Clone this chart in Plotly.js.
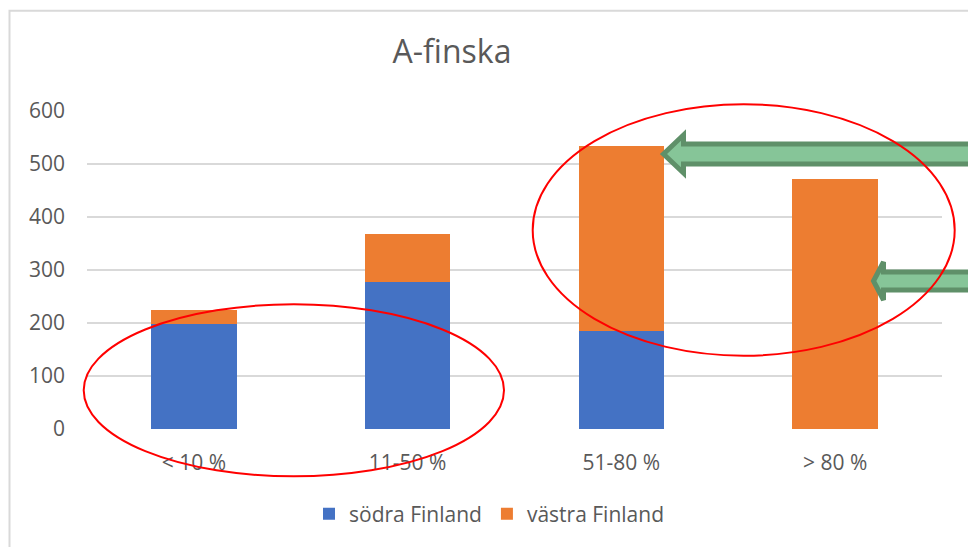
<!DOCTYPE html>
<html>
<head>
<meta charset="utf-8">
<script src="https://cdn.plot.ly/plotly-3.0.1.min.js"></script>
<style>
  html, body { margin: 0; padding: 0; background: #ffffff; }
  #chart { width: 968px; height: 547px; }
</style>
</head>
<body>
<div id="chart"></div>
<script>
// ---- data ----
const categories = ['< 10 %', '11-50 %', '51-80 %', '> 80 %'];
const sodraFinland = [198, 278, 184, 0];
const vastraFinland = [26, 90, 350, 472];
const seriesNames = ['södra Finland', 'västra Finland'];
const yTicks = [0, 100, 200, 300, 400, 500, 600];

// ---- layout constants ----
const W = 968, H = 547;
const M = { l: 87, r: 26, t: 111, b: 118 };
const PW = W - M.l - M.r, PH = H - M.t - M.b;
const px = x => (x - M.l) / PW;          // pixel -> paper x
const py = y => (H - M.b - y) / PH;      // pixel -> paper y

function leftArrow(tipX, tipY, headHalf, bodyHalf, backX, endX) {
  return 'M' + px(tipX) + ',' + py(tipY) +
    ' L' + px(backX) + ',' + py(tipY - headHalf) +
    ' L' + px(backX) + ',' + py(tipY - bodyHalf) +
    ' L' + px(endX) + ',' + py(tipY - bodyHalf) +
    ' L' + px(endX) + ',' + py(tipY + bodyHalf) +
    ' L' + px(backX) + ',' + py(tipY + bodyHalf) +
    ' L' + px(backX) + ',' + py(tipY + headHalf) + ' Z';
}

const textColor = '#595959';
const font = 'Open Sans, Noto Sans, sans-serif';

const traces = [
  { type: 'bar', name: seriesNames[0], x: categories, y: sodraFinland,
    marker: { color: '#4472C4', line: { width: 0 } } },
  { type: 'bar', name: seriesNames[1], x: categories, y: vastraFinland,
    marker: { color: '#ED7D31', line: { width: 0 } } }
];

const arrowFill = '#86C598', arrowLine = '#5F9069';

const layout = {
  width: W, height: H,
  margin: M,
  paper_bgcolor: '#ffffff', plot_bgcolor: '#ffffff',
  barmode: 'stack',
  bargap: 0.6,
  font: { family: font, color: textColor, size: 21 },
  title: {
    text: 'A-finska',
    font: { family: font, size: 32, color: textColor },
    xref: 'container', yref: 'container',
    x: 452 / W, xanchor: 'center',
    y: 1 - 52 / H, yanchor: 'middle'
  },
  xaxis: {
    type: 'category',
    showgrid: false, zeroline: false, showline: false,
    ticks: '',
    tickfont: { family: font, size: 21, color: textColor },
    ticklabelstandoff: 19
  },
  yaxis: {
    range: [0, 600],
    tickvals: yTicks,
    ticktext: yTicks.map(String),
    showgrid: true, gridcolor: '#D9D9D9', gridwidth: 2,
    zeroline: false, showline: false, ticks: '',
    tickfont: { family: font, size: 21, color: textColor },
    ticklabelstandoff: 21
  },
  showlegend: true,
  legend: {
    orientation: 'h',
    x: 489 / W, xref: 'container', xanchor: 'center',
    y: 1 - 514 / H, yref: 'container', yanchor: 'middle',
    font: { family: font, size: 21, color: textColor },
    itemwidth: 30,
    traceorder: 'normal'
  },
  shapes: [
    // chart frame
    { type: 'rect', xref: 'paper', yref: 'paper', layer: 'below',
      x0: px(9.5), y0: py(10.7), x1: px(1100), y1: py(700),
      line: { color: '#D9D9D9', width: 2 }, fillcolor: 'rgba(0,0,0,0)' },
    // green arrows
    { type: 'path', xref: 'paper', yref: 'paper', layer: 'above',
      path: leftArrow(663.5, 154, 19, 10, 683.5, 1000),
      fillcolor: arrowFill, line: { color: arrowLine, width: 5 } },
    { type: 'path', xref: 'paper', yref: 'paper', layer: 'above',
      path: leftArrow(873.5, 281, 19, 9, 883.5, 1000),
      fillcolor: arrowFill, line: { color: arrowLine, width: 5 } },
    // red ellipses
    { type: 'circle', xref: 'paper', yref: 'paper', layer: 'above',
      x0: px(83.7), x1: px(504), y0: py(476.3), y1: py(304.3),
      line: { color: '#FF0000', width: 2 }, fillcolor: 'rgba(0,0,0,0)' },
    { type: 'circle', xref: 'paper', yref: 'paper', layer: 'above',
      x0: px(532.7), x1: px(954.7), y0: py(355.7), y1: py(104.3),
      line: { color: '#FF0000', width: 2 }, fillcolor: 'rgba(0,0,0,0)' }
  ],
  hovermode: false
};

Plotly.newPlot('chart', traces, layout, { displayModeBar: false, staticPlot: true });
</script>
</body>
</html>
